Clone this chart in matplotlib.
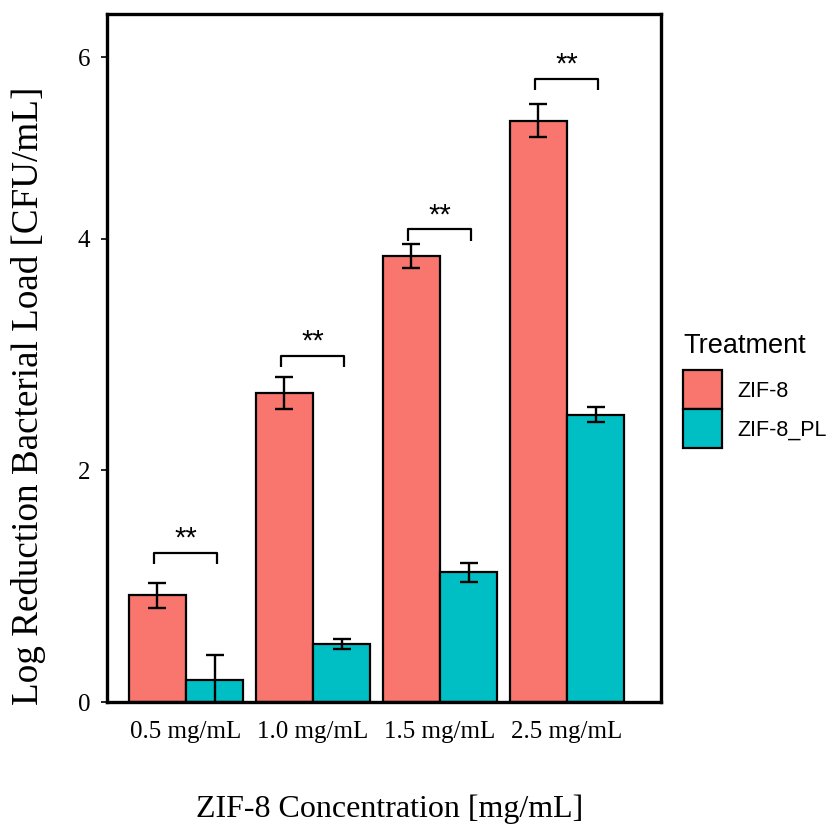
import matplotlib
matplotlib.use("Agg")
import matplotlib.pyplot as plt
import numpy as np
from matplotlib.patches import Patch

categories = ["0.5 mg/mL", "1.0 mg/mL", "1.5 mg/mL", "2.5 mg/mL"]
zif8 = [0.92, 2.67, 3.85, 5.02]
zif8_err = [0.11, 0.14, 0.10, 0.145]
zif8_pl = [0.19, 0.50, 1.12, 2.48]
zif8_pl_err = [0.22, 0.045, 0.08, 0.065]
sig_labels = ["**", "**", "**", "**"]
sig_heights = [1.29, 2.99, 4.08, 5.38]
ytick_vals = [0, 2, 4, 5.565]
ytick_labels = ["0", "2", "4", "6"]

red = "#F8766D"
teal = "#00BFC4"

fig = plt.figure(figsize=(8.31, 8.27), dpi=100)
ax = fig.add_axes([0.1288, 0.1511, 0.7954 - 0.1288, 0.9831 - 0.1511])

x = np.arange(1, len(categories) + 1)
w = 0.45
ax.bar(x - w / 2, zif8, width=w, color=red, edgecolor="black", linewidth=1.6, zorder=2)
ax.bar(x + w / 2, zif8_pl, width=w, color=teal, edgecolor="black", linewidth=1.6, zorder=2)
ax.errorbar(x - w / 2, zif8, yerr=zif8_err, fmt="none", ecolor="black",
            elinewidth=1.7, capsize=6.5, capthick=1.7, zorder=3)
ax.errorbar(x + w / 2, zif8_pl, yerr=zif8_pl_err, fmt="none", ecolor="black",
            elinewidth=1.7, capsize=6.5, capthick=1.7, zorder=3)

leg_drop = 0.1
for xi, h, lab in zip(x, sig_heights, sig_labels):
    xl, xr = xi - 0.255, xi + 0.245
    ax.plot([xl, xl, xr, xr], [h - leg_drop, h, h, h - leg_drop],
            color="black", linewidth=1.6, zorder=3, solid_capstyle="butt")
    ax.text((xl + xr) / 2, h + 0.0, lab, ha="center", va="bottom",
            fontsize=21, family="Liberation Sans")

ax.set_xlim(0.378, 4.740)
ax.set_ylim(0, 5.94)
ax.set_xticks(x)
ax.set_xticklabels(categories, family="Liberation Serif", fontsize=18)
ax.set_yticks(ytick_vals)
ax.set_yticklabels(ytick_labels, family="Liberation Serif", fontsize=18)
ax.tick_params(axis="x", length=0, pad=14)
ax.tick_params(axis="y", length=4, width=1.2, pad=8)
for s in ax.spines.values():
    s.set_linewidth(2.4)
    s.set_color("black")

ax.set_xlabel("ZIF-8 Concentration [mg/mL]", family="Liberation Serif",
              fontsize=23)
ax.xaxis.set_label_coords(0.51, -0.135)
ax.set_ylabel("Log Reduction Bacterial Load [CFU/mL]", family="Liberation Serif",
              fontsize=26.7)
ax.yaxis.set_label_coords(-0.11, 0.445)

handles = [Patch(facecolor=red, edgecolor="black", linewidth=1.6, label="ZIF-8"),
           Patch(facecolor=teal, edgecolor="black", linewidth=1.6, label="ZIF-8_PL")]
leg = fig.legend(handles=handles, title="Treatment", loc="upper left",
                 bbox_to_anchor=(0.822, 0.597), frameon=False,
                 prop={"family": "Liberation Sans", "size": 15.5},
                 title_fontproperties={"family": "Liberation Sans", "size": 19.5},
                 handlelength=1.8, handleheight=2.41, handletextpad=0.7,
                 labelspacing=0.0, borderaxespad=0, borderpad=0)
leg._legend_box.align = "left"
leg._legend_box.sep = 8

fig.savefig("out.png", dpi=100)
